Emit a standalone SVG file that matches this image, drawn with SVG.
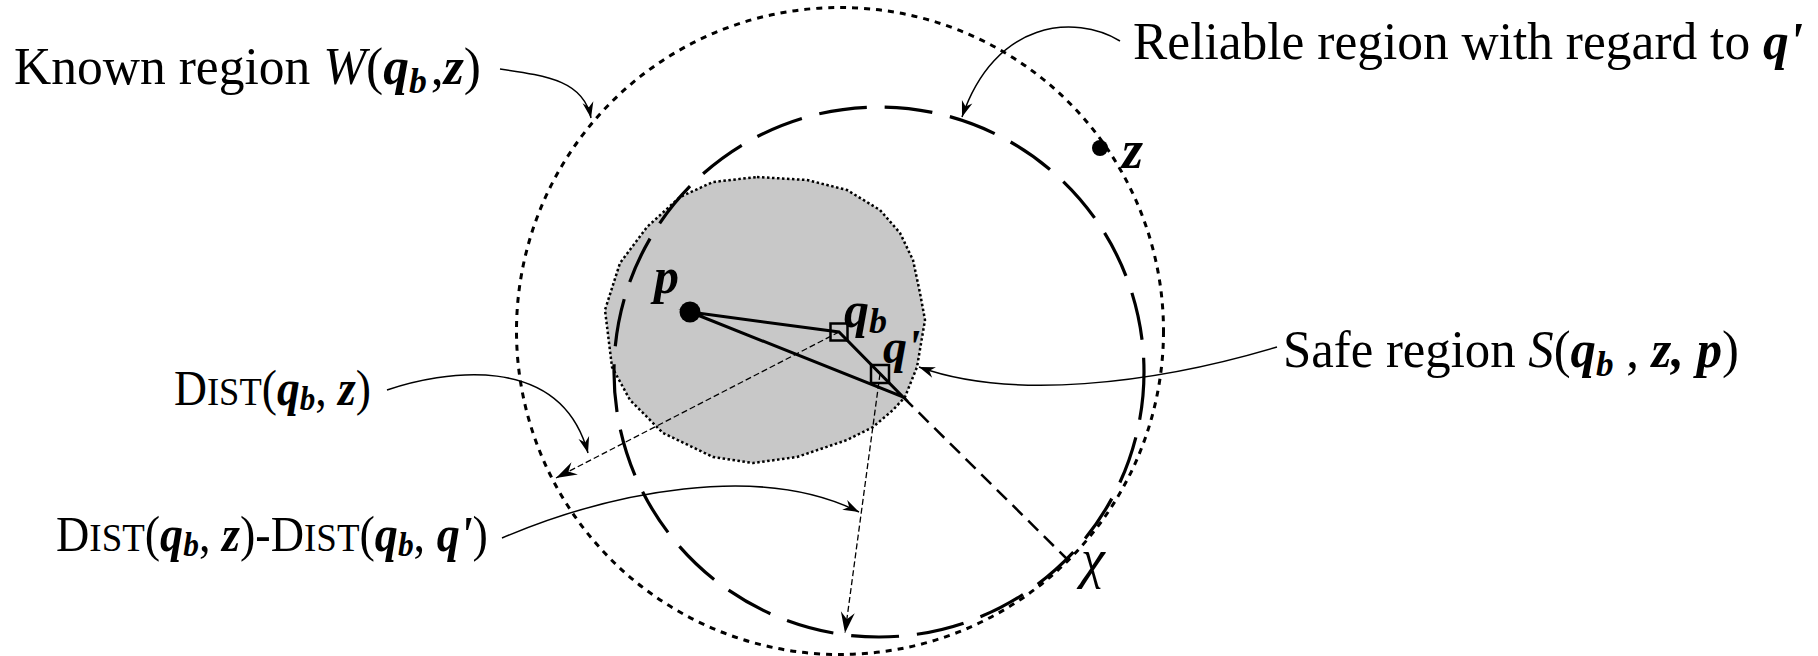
<svg xmlns="http://www.w3.org/2000/svg" width="1818" height="656" viewBox="0 0 1818 656">
<style>
text{font-family:"Liberation Serif","Times New Roman",serif;fill:#000}
.bi{font-weight:bold;font-style:italic}
.it{font-style:italic}
.solid{fill:none;stroke:#000;stroke-width:3;stroke-linejoin:miter;stroke-miterlimit:10}
.thin{fill:none;stroke:#000;stroke-width:1.3;stroke-dasharray:6 3}
.note{fill:none;stroke:#000;stroke-width:1.5}
</style>
<defs>
<marker id="ahBig" viewBox="-22 -8 24 16" refX="0" refY="0" markerWidth="24" markerHeight="16" markerUnits="userSpaceOnUse" orient="auto">
<path d="M0,0 L-21,-7 L-14,0 L-21,7 Z" fill="#000" stroke="none"/>
</marker>
<marker id="ahSmall" viewBox="-18 -7 20 14" refX="0" refY="0" markerWidth="20" markerHeight="14" markerUnits="userSpaceOnUse" orient="auto">
<path d="M0,0 L-16,-5.5 L-11,0 L-16,5.5 Z" fill="#000" stroke="none"/>
</marker>
</defs>
<rect width="1818" height="656" fill="#fff"/>

<g id="safe-region">
<path d="M757,177 L807,180 L847,190 L880,210 L900,233 L913,260 L920,293 L925,320 L917,367 L905,397 L893,410 L873,427 L847,440 L797,457 L753,463 L713,457 L663,433 L630,400 L612,367 L605,310 L620,263 L647,227 L680,197 L713,182 Z" fill="#c8c8c8" stroke="#000" stroke-width="2.5" stroke-dasharray="2.5 2.5"/>
</g>

<g id="known-region">
<circle cx="840" cy="331" r="323.5" fill="none" stroke="#000" stroke-width="3" stroke-dasharray="6 6"/>
</g>

<g id="reliable-region">
<circle cx="879" cy="372" r="265" fill="none" stroke="#000" stroke-width="3.2" stroke-dasharray="48 18"/>
</g>

<g id="connectors">
<path class="solid" d="M690,312 L839,332 L903,397 Z"/>
<path d="M903,397 L1068,560" fill="none" stroke="#000" stroke-width="2.5" stroke-dasharray="14 8"/>
<path class="thin" d="M839,332 L556,478" marker-end="url(#ahBig)"/>
<path class="thin" d="M880,374 L845,633" marker-end="url(#ahBig)"/>
<path class="note" d="M500,69 C550,76 584,82 591,118" marker-end="url(#ahSmall)"/>
<path class="note" d="M1120,41 C1075,14 995,20 962,117" marker-end="url(#ahSmall)"/>
<path class="note" d="M1277,347 C1150,385 1010,400 919,367" marker-end="url(#ahSmall)"/>
<path class="note" d="M387,390 C440,372 560,350 588,453" marker-end="url(#ahSmall)"/>
<path class="note" d="M502,538 C610,492 760,462 859,512" marker-end="url(#ahSmall)"/>
</g>

<g id="point-p">
<circle cx="690" cy="312" r="10.5" fill="#000"/>
<text x="654" y="293" font-size="50" class="bi">p</text>
</g>

<g id="point-qb">
<rect x="830.5" y="323.5" width="17" height="17" fill="none" stroke="#000" stroke-width="2.5"/>
<text x="844" y="327" font-size="50" class="bi">q<tspan font-size="36" dy="6">b</tspan></text>
</g>

<g id="point-qprime">
<rect x="871" y="365" width="18" height="18" fill="none" stroke="#000" stroke-width="2.5"/>
<text x="883" y="363" font-size="48" class="bi">q'</text>
</g>

<g id="point-z">
<circle cx="1100" cy="148" r="8" fill="#000"/>
<text x="1122" y="168" font-size="54" class="bi">z</text>
</g>

<g id="point-chi">
<text x="1081" y="577" font-size="54" class="it">χ</text>
</g>

<g id="label-known">
<text x="14" y="84" font-size="52" textLength="467" lengthAdjust="spacingAndGlyphs">Known region <tspan class="it">W</tspan>(<tspan class="bi">q</tspan><tspan class="bi" font-size="36" dy="9">b</tspan><tspan dy="-9" dx="4">,</tspan><tspan class="bi">z</tspan>)</text>
</g>

<g id="label-reliable">
<text x="1133" y="59" font-size="53" textLength="670" lengthAdjust="spacingAndGlyphs">Reliable region with regard to <tspan class="bi">q'</tspan></text>
</g>

<g id="label-safe">
<text x="1283" y="367" font-size="52" textLength="456" lengthAdjust="spacingAndGlyphs">Safe region <tspan class="it">S</tspan>(<tspan class="bi">q</tspan><tspan class="bi" font-size="36" dy="9">b</tspan><tspan dy="-9"> , </tspan><tspan class="bi">z,</tspan> <tspan class="bi">p</tspan>)</text>
</g>

<g id="label-dist">
<text x="174" y="405" font-size="50" textLength="197" lengthAdjust="spacingAndGlyphs">D<tspan font-size="40">IST</tspan>(<tspan class="bi">q</tspan><tspan class="bi" font-size="34" dy="5">b</tspan><tspan dy="-5">,</tspan> <tspan class="bi">z</tspan>)</text>
</g>

<g id="label-diff">
<text x="56" y="551" font-size="50" textLength="432" lengthAdjust="spacingAndGlyphs">D<tspan font-size="40">IST</tspan>(<tspan class="bi">q</tspan><tspan class="bi" font-size="34" dy="5">b</tspan><tspan dy="-5">,</tspan> <tspan class="bi">z</tspan>)-D<tspan font-size="40">IST</tspan>(<tspan class="bi">q</tspan><tspan class="bi" font-size="34" dy="5">b</tspan><tspan dy="-5">,</tspan> <tspan class="bi">q'</tspan>)</text>
</g>
</svg>
